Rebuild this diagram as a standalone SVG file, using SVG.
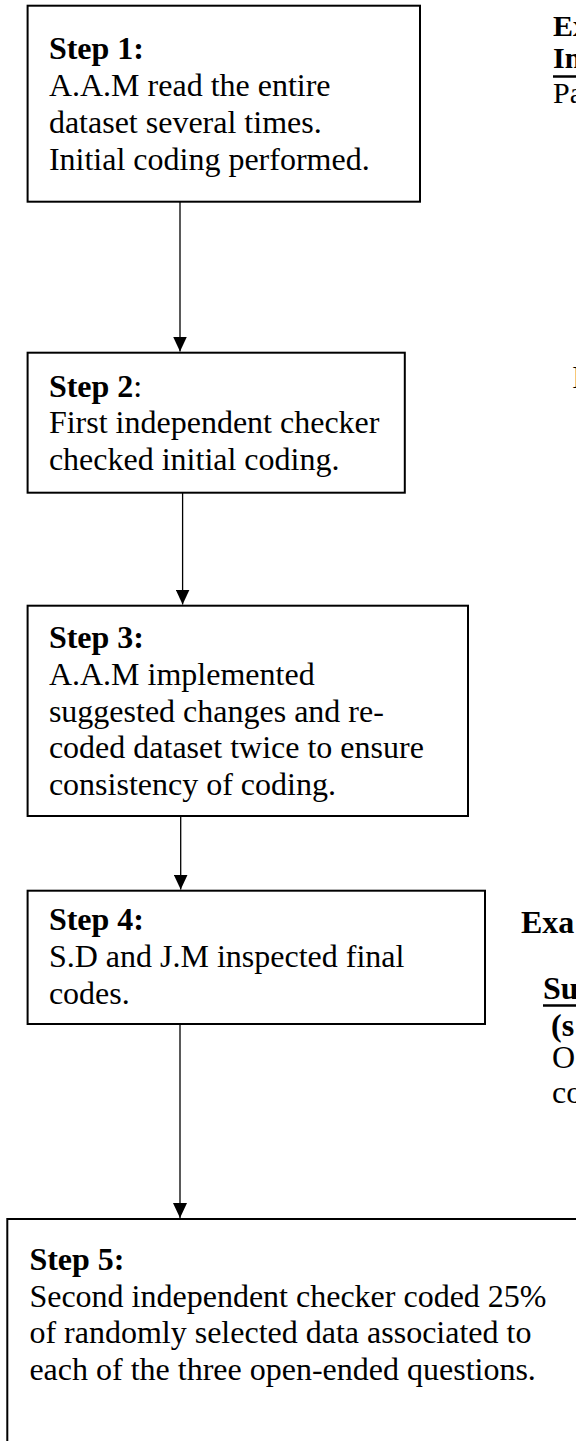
<svg xmlns="http://www.w3.org/2000/svg" width="576" height="1441" viewBox="0 0 576 1441">
<style>
.box{fill:#fff;stroke:#000;stroke-width:2}
.t{font-family:"Liberation Serif","Times New Roman",serif;font-size:32px;fill:#000}
.b{font-weight:bold}
.side{font-family:"Liberation Serif","Times New Roman",serif;fill:#000}
.conn{stroke:#000;stroke-width:1.3;fill:none}
.ul{stroke:#000;stroke-width:2.5}
</style>
<defs>
<marker id="ah" viewBox="0 0 15 14" refX="15" refY="7" markerWidth="15" markerHeight="14" orient="auto" markerUnits="userSpaceOnUse">
<path d="M0,0 L15,7 L0,14 z" fill="#000"/>
</marker>
</defs>
<rect width="576" height="1441" fill="#fff"/>

<g id="connectors">
<line class="conn" x1="180" y1="202" x2="180" y2="351.5" marker-end="url(#ah)"/>
<line class="conn" x1="182.6" y1="493" x2="182.6" y2="604.5" marker-end="url(#ah)"/>
<line class="conn" x1="180.7" y1="816" x2="180.7" y2="889.5" marker-end="url(#ah)"/>
<line class="conn" x1="180" y1="1024" x2="180" y2="1218" marker-end="url(#ah)"/>
</g>

<g id="step1">
<rect class="box" x="27.6" y="5.7" width="392.4" height="196"/>
<text class="t b" x="48.9" y="58.5">Step 1:</text>
<text class="t" x="48.9" y="95.8">A.A.M read the entire</text>
<text class="t" x="48.9" y="133.1">dataset several times.</text>
<text class="t" x="48.9" y="170.4">Initial coding performed.</text>
</g>

<g id="step2">
<rect class="box" x="27.6" y="352.7" width="377.2" height="140"/>
<text class="t" x="48.9" y="396.7"><tspan class="b">Step 2</tspan>:</text>
<text class="t" x="48.9" y="433.3">First independent checker</text>
<text class="t" x="48.9" y="470">checked initial coding.</text>
</g>

<g id="step3">
<rect class="box" x="27.6" y="605.7" width="440.4" height="210.3"/>
<text class="t b" x="48.9" y="648.3">Step 3:</text>
<text class="t" x="48.9" y="685">A.A.M implemented</text>
<text class="t" x="48.9" y="721.7">suggested changes and re-</text>
<text class="t" x="48.9" y="758.3">coded dataset twice to ensure</text>
<text class="t" x="48.9" y="795">consistency of coding.</text>
</g>

<g id="step4">
<rect class="box" x="27.6" y="890.7" width="457.4" height="133.3"/>
<text class="t b" x="48.9" y="930">Step 4:</text>
<text class="t" x="48.9" y="967.3">S.D and J.M inspected final</text>
<text class="t" x="48.9" y="1004">codes.</text>
</g>

<g id="step5">
<rect class="box" x="7.3" y="1219" width="575" height="230"/>
<text class="t b" x="29.4" y="1270">Step 5:</text>
<text class="t" x="29.4" y="1306.7">Second independent checker coded 25%</text>
<text class="t" x="29.4" y="1343.3">of randomly selected data associated to</text>
<text class="t" x="29.4" y="1380">each of the three open-ended questions.</text>
</g>

<g id="side-top">
<text class="side b" font-size="30" x="553" y="35.5">Ex</text>
<text class="side b" font-size="30" x="553" y="68">In</text>
<line class="ul" x1="553" y1="76.5" x2="576" y2="76.5"/>
<text class="side" font-size="30" x="553" y="102.5">Pa</text>
</g>

<g id="side-mid">
<text class="side" font-size="32" x="572" y="388">I</text>
</g>

<g id="side-bottom">
<text class="side b" font-size="32" x="521" y="933">Exa</text>
<text class="side b" font-size="32" x="543" y="999">Su</text>
<line class="ul" x1="543" y1="1005.5" x2="576" y2="1005.5"/>
<text class="side b" font-size="32" x="551" y="1035.5">(s</text>
<text class="side" font-size="32" x="552" y="1068">O</text>
<text class="side" font-size="32" x="552" y="1103">co</text>
</g>
</svg>
